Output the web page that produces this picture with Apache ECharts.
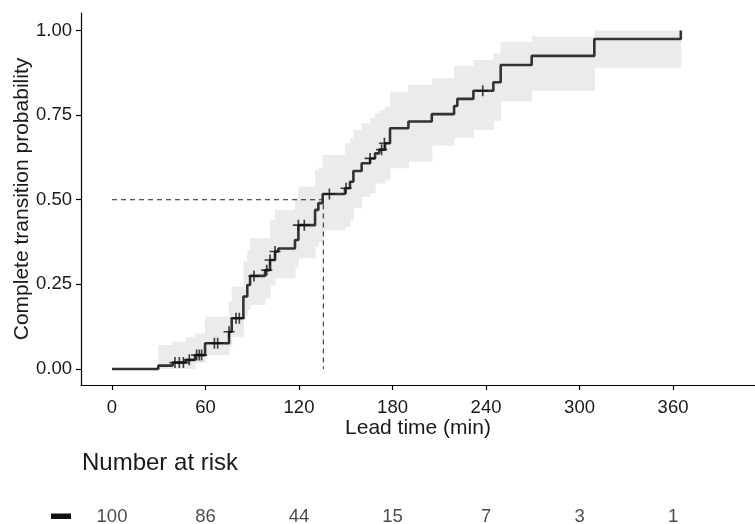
<!DOCTYPE html>
<html>
<head>
<meta charset="utf-8">
<script src="https://cdn.jsdelivr.net/npm/echarts@6/dist/echarts.min.js"></script>
<style>
  html, body { margin: 0; padding: 0; background: #fff; }
  #chart { width: 755px; height: 524px; }
</style>
</head>
<body>
<div id="chart"></div>
<script>
// step times (min) and cumulative transition probability after each step
const stepTimes = [0, 29.7, 38.9, 47.5, 53.3, 59.7, 75.1, 76.8, 84.3, 86.8, 88.6, 98.2, 101.4, 104.6, 106.7,
  117.4, 119.6, 130.3, 132.4, 135.2, 149.5, 152.7, 154.9, 160.2, 165.6, 168.8, 171.5, 175.2, 178.4,
  190.2, 205.2, 219.5, 221.6, 231.9, 244.7, 249.4, 269.3, 309.5, 365];
const stepProb = [0, 0.010, 0.019, 0.027, 0.041, 0.076, 0.110, 0.150, 0.214, 0.248, 0.275, 0.292, 0.322, 0.347, 0.356,
  0.381, 0.425, 0.470, 0.490, 0.517, 0.534, 0.553, 0.585, 0.608, 0.622, 0.637, 0.648, 0.667, 0.711,
  0.731, 0.753, 0.777, 0.798, 0.822, 0.847, 0.898, 0.925, 0.975, 1.000];
// confidence band
const bandLower = [0, 0, 0, 0, 0.018, 0.041, 0.066, 0.095, 0.155, 0.175, 0.189, 0.209, 0.248, 0.268, 0.268,
  0.300, 0.327, 0.361, 0.375, 0.410, 0.420, 0.440, 0.475, 0.509, 0.520, 0.548, 0.548, 0.560, 0.593,
  0.612, 0.660, 0.683, 0.683, 0.706, 0.733, 0.790, 0.822, 0.890, 0.890];
const bandUpper = [0, 0.071, 0.081, 0.095, 0.105, 0.155, 0.200, 0.243, 0.317, 0.350, 0.386, 0.386, 0.440, 0.470, 0.470,
  0.505, 0.539, 0.588, 0.595, 0.632, 0.667, 0.680, 0.706, 0.726, 0.741, 0.755, 0.765, 0.775, 0.819,
  0.839, 0.859, 0.896, 0.896, 0.913, 0.933, 0.967, 0.982, 1.000, 1.000];
// censored observations
const censorTimes = [40.4, 43.2, 45.8, 49.6, 54.3, 56.0, 57.5, 65.7, 67.8, 75.1, 79.6, 81.7, 91.1, 99.3,
  101.4, 104.6, 119.6, 123.4, 139.5, 150.2, 165.6, 173.0, 174.8, 237.9];
const censorProb = [0.019, 0.019, 0.019, 0.027, 0.041, 0.041, 0.041, 0.076, 0.076, 0.110, 0.150, 0.150, 0.275, 0.292,
  0.322, 0.347, 0.425, 0.425, 0.517, 0.534, 0.622, 0.648, 0.667, 0.822];
const medianTime = 135.6;
const medianProb = 0.5;
// risk table
const riskTimes = [0, 60, 120, 180, 240, 300, 360];
const riskCounts = [100, 86, 44, 15, 7, 3, 1];
const xTicks = [0, 60, 120, 180, 240, 300, 360];
const yTicks = [0, 0.25, 0.5, 0.75, 1];

const FONT = 'Liberation Sans, Arial, sans-serif';
const TXT = '#1a1a1a';

// band intervals: [from, to, lower, upper]
const bandData = [];
for (let i = 1; i < stepTimes.length - 1; i++) {
  bandData.push([stepTimes[i], stepTimes[i + 1], bandLower[i], bandUpper[i]]);
}

const chart = echarts.init(document.getElementById('chart'), null, { renderer: 'canvas' });

const option = {
  animation: false,
  textStyle: { fontFamily: FONT },
  title: {
    text: 'Number at risk',
    left: 77,
    top: 446,
    textStyle: { fontSize: 24, fontWeight: 'normal', color: TXT, fontFamily: FONT }
  },
  graphic: [
    { type: 'rect', shape: { x: 51, y: 513.5, width: 20, height: 5.5 }, style: { fill: '#111' } }
  ],
  grid: [
    { left: 81, right: 0, top: 13, bottom: 139, outerBoundsMode: 'none' },
    { left: 81, right: 0, top: 502, height: 30, outerBoundsMode: 'none' }
  ],
  xAxis: [
    {
      type: 'value', gridIndex: 0, min: -19.9, max: 412.6,
      name: 'Lead time (min)', nameLocation: 'middle', nameGap: 33, nameMoveOverlap: false,
      nameTextStyle: { fontSize: 21, color: TXT, fontFamily: FONT },
      axisLine: { show: true, onZero: false, lineStyle: { color: '#000', width: 1.2 } },
      axisTick: { show: true, customValues: xTicks, length: 5, lineStyle: { color: '#000', width: 1.2 } },
      axisLabel: { customValues: xTicks, fontSize: 18.5, color: TXT, margin: 13, fontFamily: FONT },
      splitLine: { show: false }
    },
    {
      type: 'value', gridIndex: 1, min: -19.9, max: 412.6, show: false
    }
  ],
  yAxis: [
    {
      type: 'value', gridIndex: 0, min: -0.0473, max: 1.0517,
      name: 'Complete transition probability', nameLocation: 'middle', nameGap: 48, nameMoveOverlap: false,
      nameTextStyle: { fontSize: 21, color: TXT, fontFamily: FONT },
      axisLine: { show: true, onZero: false, lineStyle: { color: '#000', width: 1.2 } },
      axisTick: { show: true, customValues: yTicks, length: 5, lineStyle: { color: '#000', width: 1.2 } },
      axisLabel: { customValues: yTicks, fontSize: 18.5, color: TXT, margin: 9, fontFamily: FONT,
        formatter: v => v.toFixed(2) },
      splitLine: { show: false }
    },
    {
      type: 'category', gridIndex: 1, data: ['All'], show: false
    }
  ],
  series: [
    {
      name: 'band', type: 'custom',
      encode: { x: [0, 1], y: [2, 3] },
      renderItem: (params, api) => {
        const a = api.coord([api.value(0), api.value(3)]);
        const b = api.coord([api.value(1), api.value(2)]);
        return {
          type: 'rect',
          shape: { x: a[0], y: a[1], width: b[0] - a[0] + 0.6, height: b[1] - a[1] },
          style: { fill: '#ebebeb' }
        };
      },
      data: bandData,
      z: 1
    },
    {
      name: 'median', type: 'line', symbol: 'none',
      lineStyle: { color: '#222', width: 1, type: [5, 4] },
      data: [[0, medianProb], [medianTime, medianProb], [medianTime, 0]],
      z: 2
    },
    {
      name: 'curve', type: 'line', step: 'end', symbol: 'none',
      lineStyle: { color: '#333', width: 2.6 },
      data: stepTimes.map((t, i) => [t, stepProb[i]]),
      z: 3
    },
    {
      name: 'censor', type: 'scatter',
      symbol: 'path://M8.5,0h3v8.5h8.5v3h-8.5v8.5h-3v-8.5h-8.5v-3h8.5z',
      symbolSize: 11,
      itemStyle: { color: '#111' },
      data: censorTimes.map((t, i) => [t, censorProb[i]]),
      z: 4
    },
    {
      name: 'risk', type: 'scatter', xAxisIndex: 1, yAxisIndex: 1,
      symbolSize: 0,
      label: {
        show: true, position: 'inside', fontSize: 18.5, color: TXT, fontFamily: FONT,
        formatter: p => String(p.value[2])
      },
      data: riskTimes.map((t, i) => [t, 0, riskCounts[i]])
    }
  ]
};

chart.setOption(option);
</script>
</body>
</html>
